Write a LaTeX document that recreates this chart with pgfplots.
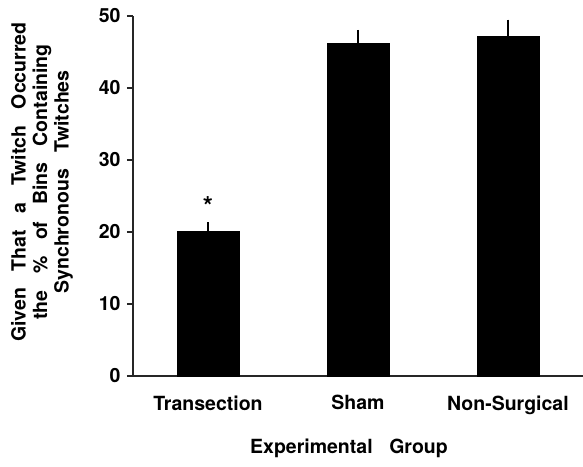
\documentclass[border=0pt]{standalone}
\usepackage{pgfplots}
\pgfplotsset{compat=1.18}
\usepackage{fontspec}
\setmainfont{TeX Gyre Heros}
\newcommand\ws{\hspace{0.85em}}
\newcommand\lbl{\fontsize{19.5}{21.5}\bfseries\selectfont}
\begin{document}
\begin{tikzpicture}
\begin{axis}[
  at={(0,0)}, anchor=south west, scale only axis,
  width=450pt, height=360pt,
  xmin=-0.5, xmax=2.5, ymin=0, ymax=50,
  axis x line*=bottom, axis y line*=left,
  axis line style={-, line width=1.1pt, black!85},
  ytick={0,10,...,50}, xtick={0,1,2},
  xticklabels={Transection, Sham, Non-Surgical},
  x tick style={draw=none},
  y tick style={line width=1.1pt, black!85},
  tick align=outside, major tick length=6pt,
  /pgf/number format/assume math mode=true,
  ticklabel style={font=\lbl},
  xticklabel style={yshift=-10pt},
  yticklabel style={xshift=-3pt},
  xlabel={Experimental\ws Group},
  xlabel style={font=\lbl, at={(axis description cs:0.48,0)}, anchor=center, yshift=-72pt},
  ylabel={Given\ws That\ws a\ws Twitch\ws Occurred\\the\ws \%\ws of\ws Bins\ws Containing\\Synchronous\ws Twitches},
  ylabel style={font=\lbl, align=center, at={(axis description cs:-0.2022,0.539)}, anchor=center},
]
\addplot[ybar, bar width=62pt, fill=black, draw=black,
  error bars/.cd, y dir=plus, y explicit,
  error bar style={line width=1.2pt, black},
  error mark options={line width=1.2pt, black, mark size=3.5pt}]
  table[x=x, y=y, y error=e] {
  x y e
  0 20.1 0.8
  1 46.2 1.4
  2 47.2 1.8
};
\node[font=\fontsize{26}{26}\bfseries\selectfont] at (axis cs:0,23.6) {*};
\end{axis}
\pgfresetboundingbox
\path[use as bounding box] (-133pt,-90pt) rectangle (450pt,376pt);
\end{tikzpicture}
\end{document}
